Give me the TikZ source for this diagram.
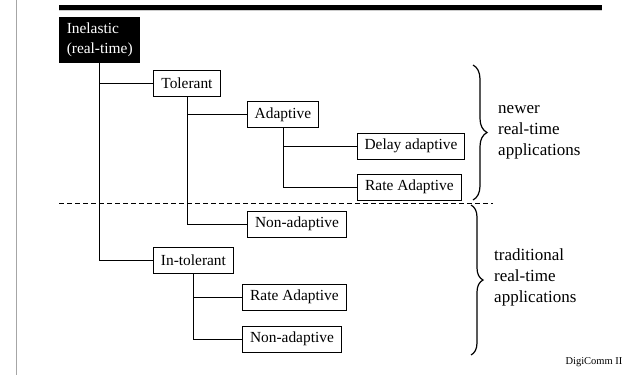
\documentclass[tikz,border=0pt]{standalone}
\usepackage{fontspec}
\setmainfont{Liberation Serif}
\usetikzlibrary{decorations.pathreplacing}
\begin{document}
\begin{tikzpicture}[x=1pt,y=-1pt,
  box/.style={draw=black,line width=0.9pt,fill=white,anchor=west,inner sep=0pt,
    minimum height=26pt,font=\fontsize{15.4}{18}\selectfont},
  conn/.style={draw=black,line width=0.9pt},
  bracestyle/.style={draw=black,line width=1.2pt,decorate,decoration={brace,amplitude=14pt}},
  sidetext/.style={anchor=west,align=left,inner sep=0pt,font=\fontsize{17}{21}\selectfont}]
\useasboundingbox (0,0) rectangle (634,375);
% page decorations
\draw[gray!70,line width=1pt] (16.7,0) -- (16.7,375);
\fill[black] (59,5) rectangle (602,10);
\fill[gray!40] (59,10) rectangle (602,11);
% nodes
\node[fill=black,text=white,anchor=west,inner xsep=7pt,inner ysep=0pt,minimum width=81pt,minimum height=46pt,
  align=left,font=\fontsize{15.4}{20}\selectfont] (inel) at (59,40) {Inelastic\\(real-time)};
\node[box,minimum width=67pt] (tol) at (153,83) {Tolerant};
\node[box,minimum width=71pt] (adap) at (247,114.5) {Adaptive};
\node[box,minimum width=107pt] (delay) at (357,146) {Delay adaptive};
\node[box,minimum width=104pt] (rate1) at (357,187) {Rate Adaptive};
\node[box,minimum width=99pt] (nona1) at (247,224) {Non-adaptive};
\node[box,minimum width=80pt] (intol) at (153,260) {In-tolerant};
\node[box,minimum width=104pt] (rate2) at (242,297) {Rate Adaptive};
\node[box,minimum width=99pt] (nona2) at (242,339) {Non-adaptive};
% connectors
\coordinate (trunk) at (99.5,63);
\draw[conn] (trunk) |- (tol.west);
\draw[conn] (trunk) |- (intol.west);
\draw[conn] (tol.south) |- (adap.west);
\draw[conn] (tol.south) |- (nona1.west);
\draw[conn] (adap.south) |- (delay.west);
\draw[conn] (adap.south) |- (rate1.west);
\draw[conn] (intol.south) |- (rate2.west);
\draw[conn] (intol.south) |- (nona2.west);
% dashed divider
\coordinate (dl) at (59,203);
\coordinate (dr) at (493,203);
\draw[black,line width=0.8pt,dash pattern=on 5pt off 3pt] (dl) -- (dr);
% braces
\coordinate (b1t) at (473,65);
\coordinate (b1b) at (473,200);
\coordinate (b2t) at (471,205);
\coordinate (b2b) at (471,355);
\draw[bracestyle] (b1t) -- (b1b);
\draw[bracestyle,decoration={brace,amplitude=12pt}] (b2t) -- (b2b);
\node[sidetext] (newer) at (498,132) {newer\\real-time\\applications};
\node[sidetext] (trad) at (494,277) {traditional\\real-time\\applications};
\node[anchor=center,inner sep=0pt,font=\fontsize{10.5}{12}\selectfont] (digi) at (594,362) {DigiComm II};
\end{tikzpicture}
\end{document}
